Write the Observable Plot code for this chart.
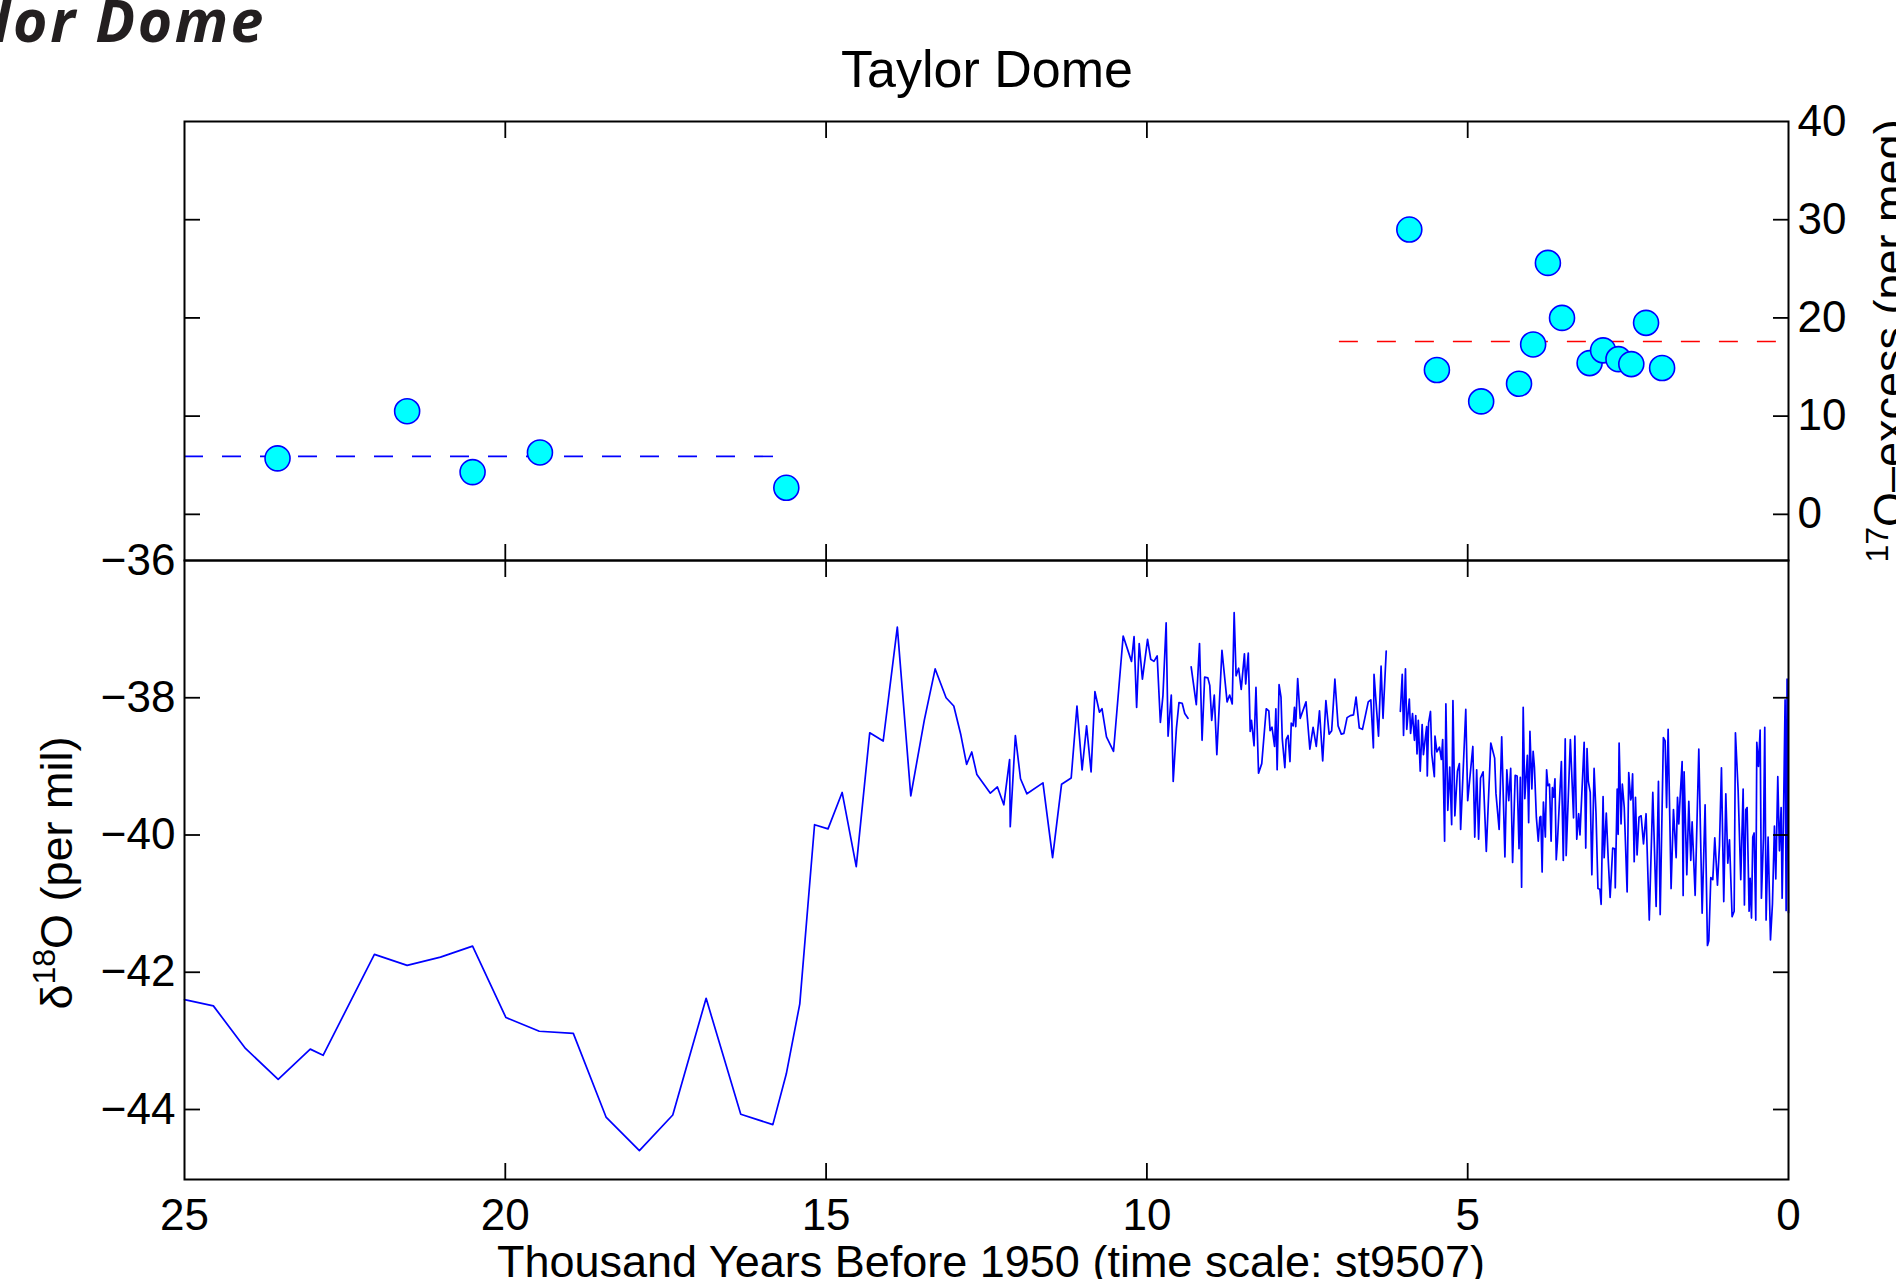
<!DOCTYPE html>
<html><head><meta charset="utf-8">
<script src="https://cdn.jsdelivr.net/npm/d3@7"></script>
<script src="https://cdn.jsdelivr.net/npm/@observablehq/plot@0.6"></script>
<style>
html,body{margin:0;padding:0;background:#fff;}
#fig{position:relative;width:1896px;height:1279px;overflow:hidden;background:#fff;}
#fig svg{position:absolute;left:0;margin:0;max-width:none;}
</style></head><body><div id="fig"></div>
<script>
// ---------- data ----------
const xTicks = [25, 20, 15, 10, 5, 0];
const innerXTicks = [20, 15, 10, 5];
const o17Ticks = [0, 10, 20, 30, 40];
const o17InnerTicks = [0, 10, 20, 30];
const d18OTicks = [-36, -38, -40, -42, -44];
const d18OInnerTicks = [-38, -40, -42, -44];

// 17O-excess samples (kyr BP, per meg)
const o17Age    = [23.55, 21.53, 20.51, 19.46, 15.62, 5.91, 5.48, 4.79, 4.20, 3.98, 3.75, 3.53, 3.10, 2.89, 2.65, 2.45, 2.22, 1.97];
const o17Excess = [5.7, 10.5, 4.3, 6.3, 2.7, 29.0, 14.7, 11.5, 13.3, 17.3, 25.6, 20.0, 15.4, 16.7, 15.8, 15.3, 19.5, 14.9];

// mean levels (glacial in blue, Holocene in red)
const glacialMeanSpan = [25, 15.8];
const glacialMean = 5.9;
const holoceneMeanSpan = [7, 0];
const holoceneMean = 17.6;

// d18O record [kyr BP, per mil], three continuous pieces
const d18OPart1 = [[25.00,-42.40],[24.55,-42.49],[24.05,-43.11],[23.54,-43.56],[23.04,-43.12],[22.84,-43.21],[22.04,-41.74],[21.53,-41.90],[21.01,-41.78],[20.51,-41.62],[19.99,-42.66],[19.47,-42.86],[18.94,-42.89],[18.43,-44.11],[17.91,-44.60],[17.39,-44.08],[16.87,-42.38],[16.33,-44.07],[15.83,-44.22],[15.62,-43.48],[15.41,-42.46],[15.18,-39.85],[14.97,-39.91],[14.75,-39.38],[14.53,-40.46],[14.32,-38.51],[14.11,-38.63],[13.89,-36.97],[13.68,-39.43],[13.47,-38.33],[13.30,-37.58],[13.13,-38.00],[13.01,-38.12],[12.90,-38.54],[12.81,-38.97],[12.73,-38.79],[12.65,-39.12],[12.44,-39.39],[12.33,-39.30],[12.23,-39.56],[12.14,-38.90],[12.13,-39.88],[12.05,-38.55],[11.97,-39.18],[11.87,-39.40],[11.62,-39.24],[11.47,-40.33],[11.33,-39.26],[11.18,-39.17],[11.09,-38.12],[11.01,-39.05],[10.94,-38.41],[10.87,-39.08],[10.81,-37.91],[10.74,-38.21],[10.70,-38.16],[10.63,-38.57],[10.52,-38.78],[10.37,-37.10],[10.24,-37.47],[10.20,-37.11],[10.16,-38.14],[10.12,-37.21],[10.07,-37.73],[9.99,-37.15],[9.94,-37.44],[9.89,-37.47],[9.84,-37.39],[9.79,-38.36],[9.75,-37.97],[9.70,-36.91],[9.67,-38.56],[9.62,-37.96],[9.59,-39.22],[9.54,-38.45],[9.50,-38.07],[9.45,-38.08],[9.41,-38.23],[9.36,-38.30]];
const d18OPart2 = [[9.31,-37.55],[9.23,-38.10],[9.18,-37.21],[9.14,-38.62],[9.10,-37.70],[9.05,-37.71],[9.02,-37.82],[8.99,-38.33],[8.95,-37.96],[8.91,-38.83],[8.83,-37.31],[8.75,-38.06],[8.71,-37.96],[8.67,-38.09],[8.64,-36.76],[8.61,-37.68],[8.57,-37.57],[8.53,-37.88],[8.48,-37.36],[8.46,-37.80],[8.42,-37.35],[8.39,-38.49],[8.37,-38.33],[8.33,-38.70],[8.30,-37.85],[8.26,-39.10],[8.21,-38.96],[8.14,-38.16],[8.10,-38.19],[8.08,-38.48],[8.05,-38.43],[8.01,-38.71],[7.99,-38.16],[7.97,-39.05],[7.94,-37.81],[7.91,-37.99],[7.89,-38.60],[7.85,-39.02],[7.83,-38.61],[7.80,-38.55],[7.77,-38.93],[7.75,-38.37],[7.72,-38.41],[7.70,-38.14],[7.68,-38.42],[7.65,-37.72],[7.61,-38.30],[7.52,-38.06],[7.46,-38.75],[7.41,-38.43],[7.36,-38.71],[7.31,-38.19],[7.26,-38.92],[7.21,-38.04],[7.16,-38.53],[7.12,-38.48],[7.07,-37.73],[7.02,-38.41],[6.97,-38.53],[6.93,-38.52],[6.88,-38.29],[6.83,-38.26],[6.78,-38.25],[6.74,-37.99],[6.69,-38.44],[6.64,-38.46],[6.55,-38.06],[6.51,-38.03],[6.47,-38.73],[6.46,-37.66],[6.39,-38.56],[6.35,-37.54],[6.32,-38.30],[6.27,-37.32]];
const d18OPart3 = [[6.05,-38.20],[6.02,-37.66],[6.00,-38.55],[5.97,-37.58],[5.95,-38.46],[5.91,-38.02],[5.89,-38.52],[5.86,-38.23],[5.83,-38.62],[5.81,-38.26],[5.79,-38.82],[5.77,-38.33],[5.74,-39.07],[5.71,-38.39],[5.69,-38.83],[5.64,-38.42],[5.63,-39.14],[5.61,-38.37],[5.58,-38.20],[5.56,-38.82],[5.52,-39.15],[5.51,-38.56],[5.48,-38.79],[5.44,-38.72],[5.41,-38.90],[5.39,-38.61],[5.36,-40.09],[5.34,-38.09],[5.31,-39.64],[5.28,-39.01],[5.25,-39.85],[5.23,-38.04],[5.20,-39.72],[5.16,-39.07],[5.13,-38.96],[5.11,-39.92],[5.03,-38.17],[5.00,-39.50],[4.92,-38.71],[4.89,-40.03],[4.86,-39.05],[4.83,-40.06],[4.80,-39.17],[4.76,-39.08],[4.71,-40.24],[4.64,-38.66],[4.58,-38.88],[4.56,-39.39],[4.51,-39.92],[4.47,-38.57],[4.42,-40.32],[4.39,-39.05],[4.36,-39.50],[4.33,-39.03],[4.30,-40.40],[4.26,-39.13],[4.23,-39.14],[4.20,-40.20],[4.18,-39.16],[4.16,-40.76],[4.135,-38.14],[4.11,-39.47],[4.07,-38.84],[4.05,-39.82],[4.03,-38.49],[4.00,-39.33],[3.98,-38.78],[3.96,-39.01],[3.93,-39.74],[3.90,-40.09],[3.875,-39.74],[3.86,-39.73],[3.84,-40.54],[3.82,-39.52],[3.79,-40.03],[3.77,-39.05],[3.75,-39.28],[3.725,-39.26],[3.70,-40.09],[3.68,-39.31],[3.66,-39.45],[3.64,-39.18],[3.62,-40.36],[3.60,-40.08],[3.54,-38.93],[3.51,-40.37],[3.48,-38.60],[3.465,-40.30],[3.40,-38.61],[3.35,-39.75],[3.33,-38.56],[3.30,-40.06],[3.27,-39.69],[3.25,-40.00],[3.185,-38.65],[3.16,-40.19],[3.14,-38.74],[3.12,-39.22],[3.09,-39.38],[3.065,-40.58],[3.03,-39.03],[3.00,-39.69],[2.97,-40.78],[2.94,-40.79],[2.92,-41.01],[2.89,-39.44],[2.873,-40.33],[2.84,-39.68],[2.81,-40.35],[2.78,-40.91],[2.74,-40.19],[2.707,-40.20],[2.70,-40.77],[2.67,-39.33],[2.655,-39.99],[2.64,-38.66],[2.61,-39.84],[2.59,-39.26],[2.56,-39.60],[2.515,-40.83],[2.49,-39.09],[2.46,-39.49],[2.447,-39.45],[2.43,-39.11],[2.405,-40.39],[2.385,-39.45],[2.36,-40.29],[2.33,-39.74],[2.297,-39.72],[2.26,-40.13],[2.22,-39.69],[2.17,-41.24],[2.115,-39.38],[2.063,-41.04],[2.027,-39.22],[2.00,-41.16],[1.95,-38.58],[1.923,-38.63],[1.90,-39.60],[1.876,-38.46],[1.83,-40.78],[1.793,-39.63],[1.751,-40.33],[1.73,-39.45],[1.71,-39.84],[1.689,-39.45],[1.658,-38.93],[1.642,-40.88],[1.627,-39.08],[1.585,-40.58],[1.554,-39.51],[1.523,-40.37],[1.502,-39.81],[1.455,-40.88],[1.398,-38.75],[1.346,-41.14],[1.30,-39.56],[1.263,-41.61],[1.242,-41.54],[1.211,-40.62],[1.18,-40.65],[1.149,-40.04],[1.107,-40.73],[1.076,-40.15],[1.045,-39.02],[1.009,-40.97],[0.977,-39.40],[0.946,-40.41],[0.92,-40.07],[0.879,-41.19],[0.847,-41.11],[0.827,-38.51],[0.785,-39.35],[0.744,-40.65],[0.707,-39.33],[0.687,-41.02],[0.666,-39.63],[0.645,-39.60],[0.614,-41.11],[0.598,-40.63],[0.577,-41.21],[0.557,-40.03],[0.536,-39.97],[0.51,-41.24],[0.494,-38.65],[0.468,-39.00],[0.442,-38.47],[0.422,-40.92],[0.39,-40.04],[0.37,-38.43],[0.349,-41.24],[0.318,-40.03],[0.281,-41.53],[0.25,-41.00],[0.219,-39.87],[0.198,-40.64],[0.167,-39.15],[0.141,-40.23],[0.115,-39.60],[0.099,-40.92],[0.079,-39.81],[0.053,-38.03],[0.037,-41.10],[0.022,-37.73],[0.0,-41.13]];

// ---------- build tables ----------
const o17Data = o17Age.map((a, i) => ({age: a, excess: o17Excess[i]}));
const meanLines = [
  {x1: glacialMeanSpan[0], x2: glacialMeanSpan[1], y: glacialMean, color: "#0000ff"},
  {x1: holoceneMeanSpan[0], x2: holoceneMeanSpan[1], y: holoceneMean, color: "#ff0000"}
];
const d18OData = [d18OPart1, d18OPart2, d18OPart3].flatMap((part, k) =>
  part.map(([age, value]) => ({age, value, part: k})));

// ---------- plots ----------
const FONT = "'Liberation Sans', Arial, Helvetica, sans-serif";
const FS = 44;
const fmt = d3.format("d");
const common = {
  width: 1896, marginLeft: 184, marginRight: 108,
  x: {domain: [25, 0]},
  style: {background: "transparent", fontFamily: FONT, fontSize: FS + "px", color: "black", overflow: "visible"}
};
const tk = {tickSize: 16, strokeWidth: 1.8, fill: "none", label: null, stroke: "black"};

const topPlot = Plot.plot({
  ...common, height: 600, marginTop: 121, marginBottom: 40,
  y: {domain: [-4.7, 40]},
  marks: [
    Plot.ruleY(meanLines, {x1: "x1", x2: "x2", y: "y", stroke: "color", strokeWidth: 1.6, strokeDasharray: "19,19"}),
    Plot.dot(o17Data, {x: "age", y: "excess", r: 12.5, fill: "#00ffff", stroke: "#0000ff", strokeWidth: 1.6}),
    Plot.axisY({anchor: "right", ticks: o17Ticks, tickSize: 0, tickPadding: 9, fontSize: FS, label: null, tickFormat: fmt}),
    Plot.axisY({anchor: "right", ticks: o17InnerTicks, insetRight: 16, ...tk}),
    Plot.axisY({anchor: "left", ticks: o17InnerTicks, insetLeft: 16, ...tk}),
    Plot.axisX({anchor: "top", ticks: innerXTicks, insetTop: 16, ...tk}),
    Plot.axisX({anchor: "bottom", ticks: innerXTicks, insetBottom: 16, ...tk}),
    Plot.frame({stroke: "black", strokeWidth: 2})
  ]
});

const bottomPlot = Plot.plot({
  ...common, height: 819, marginTop: 100, marginBottom: 100,
  y: {domain: [-45.02, -36]},
  marks: [
    Plot.line(d18OData, {x: "age", y: "value", z: "part", stroke: "#0000ff", strokeWidth: 1.7}),
    Plot.axisY({anchor: "left", ticks: d18OTicks, tickSize: 0, tickPadding: 9, fontSize: FS, label: null, tickFormat: fmt}),
    Plot.axisX({anchor: "bottom", ticks: xTicks, tickSize: 0, tickPadding: 19, fontSize: FS, label: null, tickFormat: fmt}),
    Plot.axisY({anchor: "left", ticks: d18OInnerTicks, insetLeft: 16, ...tk}),
    Plot.axisY({anchor: "right", ticks: d18OInnerTicks, insetRight: 16, ...tk}),
    Plot.axisX({anchor: "top", ticks: innerXTicks, insetTop: 16, ...tk}),
    Plot.axisX({anchor: "bottom", ticks: innerXTicks, insetBottom: 16, ...tk}),
    Plot.frame({stroke: "black", strokeWidth: 2})
  ]
});

const fig = document.getElementById("fig");
topPlot.style.top = "0px";
bottomPlot.style.top = "460px";
fig.appendChild(topPlot);
fig.appendChild(bottomPlot);

// ---------- text overlay (titles & axis labels) ----------
const ov = d3.create("svg").attr("width", 1896).attr("height", 1279)
  .style("top", "0px").style("overflow", "hidden").attr("font-family", FONT);

ov.append("text").attr("x", 266).attr("y", 42).attr("text-anchor", "end")
  .attr("font-family", "'Open Sans', 'Noto Sans', sans-serif").attr("font-weight", 700)
  .attr("font-style", "italic").attr("font-size", 59).attr("letter-spacing", 2.5).attr("fill", "#231f20")
  .text("Taylor Dome");

ov.append("text").attr("x", 987).attr("y", 87).attr("text-anchor", "middle")
  .attr("font-size", 52).text("Taylor Dome");

ov.append("text").attr("x", 991).attr("y", 1277).attr("text-anchor", "middle")
  .attr("font-size", 45).text("Thousand Years Before 1950 (time scale: st9507)");

const yl = ov.append("text").attr("transform", "translate(72,873) rotate(-90)")
  .attr("text-anchor", "middle").attr("font-size", 45);
yl.append("tspan").text("δ");
yl.append("tspan").attr("font-size", 32).attr("dy", -17).text("18");
yl.append("tspan").attr("dy", 17).text("O (per mil)");

const yr = ov.append("text").attr("transform", "translate(1905,341) rotate(-90)")
  .attr("text-anchor", "middle").attr("font-size", 45);
yr.append("tspan").attr("font-size", 32).attr("dy", -17).text("17");
yr.append("tspan").attr("dy", 17).text("O–excess (per meg)");

fig.appendChild(ov.node());
</script></body></html>
